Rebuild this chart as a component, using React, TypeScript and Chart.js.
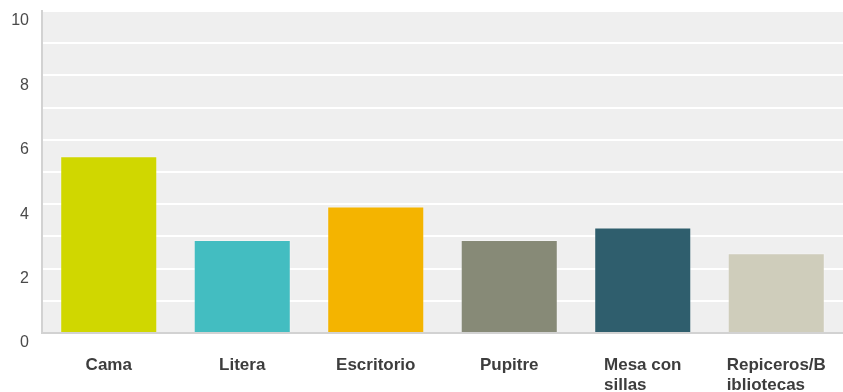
import React, { useEffect, useRef } from "react";
import { Chart, registerables } from "chart.js";

Chart.register(...registerables);

const categories: (string | string[])[] = [
  "Cama",
  "Litera",
  "Escritorio",
  "Pupitre",
  ["Mesa con", "sillas"],
  ["Repiceros/B", "ibliotecas"],
];
const values: number[] = [5.49, 2.89, 3.93, 2.89, 3.28, 2.48];
const barColors: string[] = ["#d0d700", "#43bdc1", "#f4b400", "#878a77", "#2f5e6d", "#cfcdbb"];
const yTickLabels: number[] = [0, 2, 4, 6, 8, 10];

const bgPlugin = {
  id: "plotBg",
  beforeDraw(chart: any) {
    const { ctx, chartArea } = chart;
    ctx.save();
    ctx.fillStyle = "#efefef";
    ctx.fillRect(chartArea.left, chartArea.top, chartArea.right - chartArea.left, chartArea.bottom - chartArea.top);
    ctx.restore();
  },
};

const xLabelPlugin = {
  id: "xLabels",
  afterDraw(chart: any) {
    const { ctx } = chart;
    const xScale = chart.scales.x;
    ctx.save();
    ctx.font = "bold 17px 'Liberation Sans', Arial, sans-serif";
    ctx.fillStyle = "#3d3d3d";
    ctx.textAlign = "left";
    ctx.textBaseline = "alphabetic";
    categories.forEach((c, i) => {
      const lines = Array.isArray(c) ? c : [c];
      const cx = xScale.getPixelForValue(i);
      const maxW = Math.max(...lines.map((l) => ctx.measureText(l).width));
      const x0 = cx - maxW / 2;
      lines.forEach((l, j) => {
        ctx.fillText(l, x0, chart.chartArea.bottom + 37 + j * 19.5);
      });
    });
    ctx.restore();
  },
};

export default function App() {
  const ref = useRef<HTMLCanvasElement | null>(null);
  useEffect(() => {
    if (!ref.current) return;
    const chart = new Chart(ref.current, {
      type: "bar",
      data: {
        labels: categories as any,
        datasets: [
          {
            data: values,
            backgroundColor: barColors,
            borderColor: "rgba(255,255,255,0.25)",
            borderWidth: 1,
            barPercentage: 0.727,
            categoryPercentage: 1,
          },
        ],
      },
      options: {
        animation: false,
        responsive: true,
        maintainAspectRatio: false,
        layout: { padding: { top: 11, right: 0, left: 0, bottom: 0 } },
        plugins: { legend: { display: false }, tooltip: { enabled: false } },
        scales: {
          x: {
            grid: { display: false },
            border: { color: "#d2d2d2", width: 2 },
            ticks: { display: false },
            afterFit(scale: any) {
              scale.height = 59;
              scale.paddingLeft = 0;
              scale.paddingRight = 0;
            },
          },
          y: {
            min: 0,
            max: 10,
            grid: { color: "#ffffff", lineWidth: 2, drawTicks: false },
            border: { color: "#d2d2d2", width: 2 },
            ticks: {
              stepSize: 1,
              autoSkip: false,
              padding: 13,
              labelOffset: 10,
              color: "#4a4a4a",
              font: { family: "'Liberation Sans', Arial, sans-serif", size: 16 },
              callback: (v: any) => (yTickLabels.includes(Number(v)) ? String(v) : ""),
            },
            afterFit(scale: any) {
              scale.width = 42;
              scale.paddingTop = 0;
              scale.paddingBottom = 0;
            },
          },
        },
      },
      plugins: [bgPlugin, xLabelPlugin],
    });
    return () => chart.destroy();
  }, []);
  return (
    <div style={{ position: "fixed", left: 0, top: 0, width: 843, height: 392, background: "#fff" }}>
      <canvas ref={ref} />
    </div>
  );
}
